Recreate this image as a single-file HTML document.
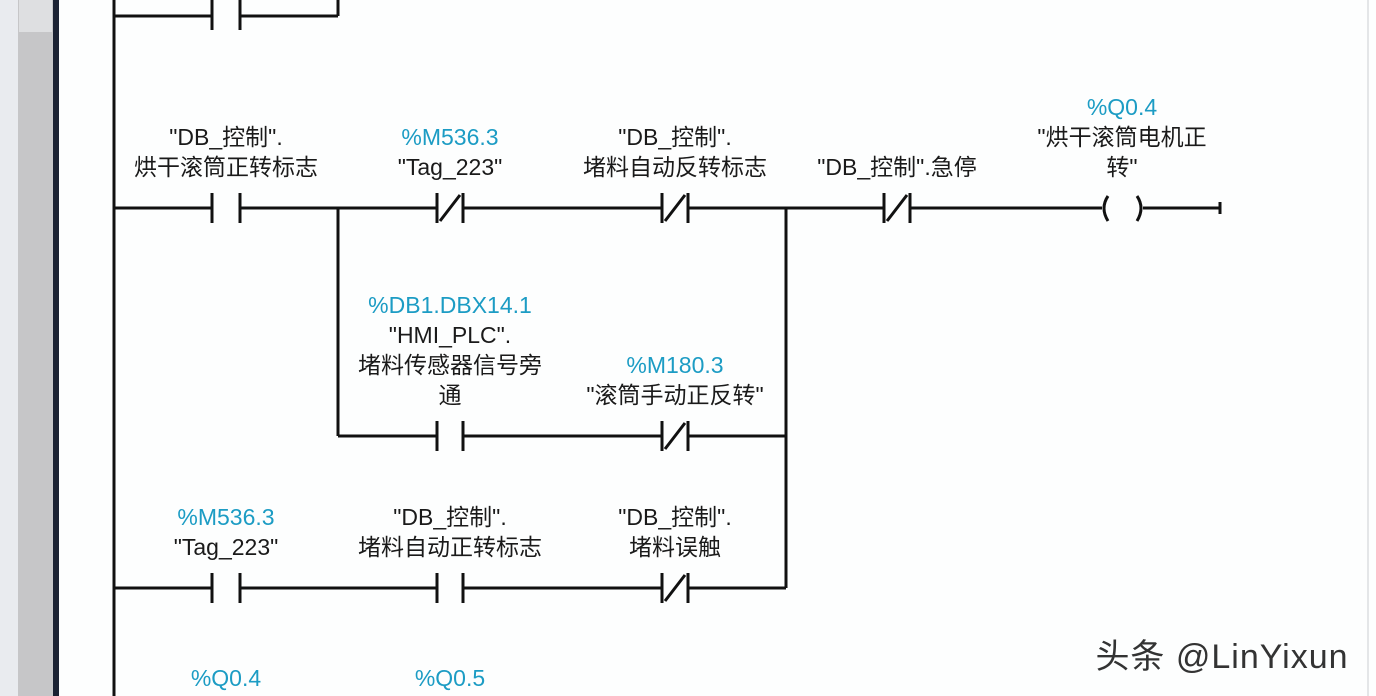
<!DOCTYPE html>
<html><head><meta charset="utf-8"><style>
html,body{margin:0;padding:0;background:#fff;}
svg{display:block;}
text{font-family:"Liberation Sans","Noto Sans CJK SC",sans-serif;font-size:23px;fill:#1a1a1a;text-anchor:middle;}
.t{fill:#1c9cc4;}
</style></head><body>
<svg width="1376" height="696" viewBox="0 0 1376 696" xmlns="http://www.w3.org/2000/svg">
<rect x="0" y="0" width="1376" height="696" fill="#fdfefe"/>
<rect x="0" y="0" width="18" height="696" fill="#e9ebef"/>
<rect x="18" y="0" width="35" height="696" fill="#c6c6c8"/>
<rect x="19" y="0" width="33" height="32" fill="#dedfe1"/>
<rect x="53" y="0" width="6" height="696" fill="#1b2233"/>
<rect x="1367" y="0" width="2" height="696" fill="#e4e6e8"/>
<g stroke="#111" stroke-width="3" fill="none">
<line x1="114" y1="0" x2="114" y2="696"/>
<line x1="114" y1="16" x2="212" y2="16"/><line x1="240" y1="16" x2="338" y2="16"/><line x1="338" y1="16" x2="338" y2="0"/>
<line x1="212" y1="0" x2="212" y2="30"/><line x1="240" y1="0" x2="240" y2="30"/>
<line x1="114" y1="208" x2="212" y2="208"/>
<line x1="212" y1="193" x2="212" y2="223"/><line x1="240" y1="193" x2="240" y2="223"/>
<line x1="240" y1="208" x2="437" y2="208"/>
<line x1="437" y1="193" x2="437" y2="223"/><line x1="463" y1="193" x2="463" y2="223"/><line x1="440" y1="221" x2="460" y2="195"/>
<line x1="463" y1="208" x2="662" y2="208"/>
<line x1="662" y1="193" x2="662" y2="223"/><line x1="688" y1="193" x2="688" y2="223"/><line x1="665" y1="221" x2="685" y2="195"/>
<line x1="688" y1="208" x2="884" y2="208"/>
<line x1="884" y1="193" x2="884" y2="223"/><line x1="910" y1="193" x2="910" y2="223"/><line x1="887" y1="221" x2="907" y2="195"/>
<line x1="910" y1="208" x2="1102" y2="208"/>
<path d="M1108 196 Q1100 208 1108 221"/><path d="M1137 196 Q1145 208 1137 221"/>
<line x1="1143" y1="208" x2="1220" y2="208"/>
<line x1="1220" y1="202" x2="1220" y2="214"/>
<line x1="338" y1="208" x2="338" y2="436"/>
<line x1="786" y1="208" x2="786" y2="588"/>
<line x1="338" y1="436" x2="437" y2="436"/>
<line x1="437" y1="421" x2="437" y2="451"/><line x1="463" y1="421" x2="463" y2="451"/>
<line x1="463" y1="436" x2="662" y2="436"/>
<line x1="662" y1="421" x2="662" y2="451"/><line x1="688" y1="421" x2="688" y2="451"/><line x1="665" y1="449" x2="685" y2="423"/>
<line x1="688" y1="436" x2="786" y2="436"/>
<line x1="114" y1="588" x2="212" y2="588"/>
<line x1="212" y1="573" x2="212" y2="603"/><line x1="240" y1="573" x2="240" y2="603"/>
<line x1="240" y1="588" x2="437" y2="588"/>
<line x1="437" y1="573" x2="437" y2="603"/><line x1="463" y1="573" x2="463" y2="603"/>
<line x1="463" y1="588" x2="662" y2="588"/>
<line x1="662" y1="573" x2="662" y2="603"/><line x1="688" y1="573" x2="688" y2="603"/><line x1="665" y1="601" x2="685" y2="575"/>
<line x1="688" y1="588" x2="786" y2="588"/>
</g>
<text x="226" y="145">"DB_控制".</text>
<text x="226" y="175">烘干滚筒正转标志</text>
<text x="450" y="145" class="t">%M536.3</text>
<text x="450" y="175">"Tag_223"</text>
<text x="675" y="145">"DB_控制".</text>
<text x="675" y="175">堵料自动反转标志</text>
<text x="897" y="175">"DB_控制".急停</text>
<text x="1122" y="115" class="t">%Q0.4</text>
<text x="1122" y="145">"烘干滚筒电机正</text>
<text x="1122" y="175">转"</text>
<text x="450" y="313" class="t">%DB1.DBX14.1</text>
<text x="450" y="343">"HMI_PLC".</text>
<text x="450" y="373">堵料传感器信号旁</text>
<text x="450" y="403">通</text>
<text x="675" y="373" class="t">%M180.3</text>
<text x="675" y="403">"滚筒手动正反转"</text>
<text x="226" y="525" class="t">%M536.3</text>
<text x="226" y="555">"Tag_223"</text>
<text x="450" y="525">"DB_控制".</text>
<text x="450" y="555">堵料自动正转标志</text>
<text x="675" y="525">"DB_控制".</text>
<text x="675" y="555">堵料误触</text>
<text x="226" y="686" class="t">%Q0.4</text>
<text x="450" y="686" class="t">%Q0.5</text>
<text x="1222" y="668" style="font-size:34px;fill:#333;letter-spacing:1px;">头条 @LinYixun</text>
</svg>
</body></html>
